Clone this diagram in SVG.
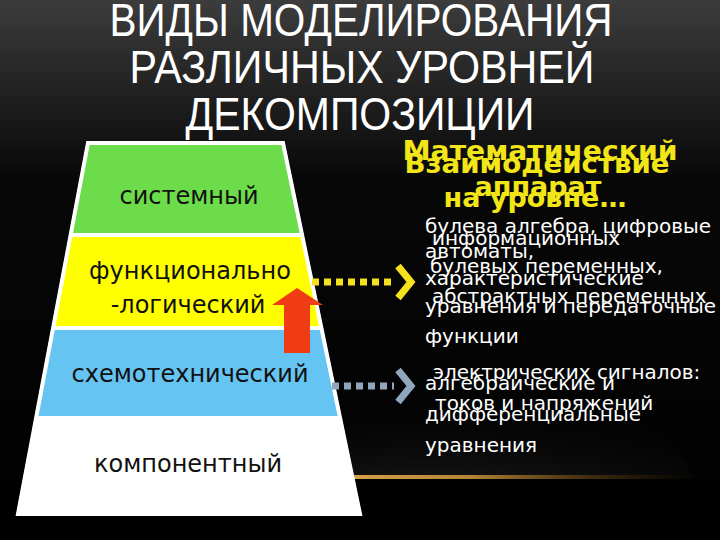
<svg xmlns="http://www.w3.org/2000/svg" width="720" height="540" viewBox="0 0 720 540">
<defs>
<linearGradient id="bg" x1="0" y1="0" x2="0" y2="1">
<stop offset="0" stop-color="#3c3c3c"/>
<stop offset="0.33" stop-color="#080808"/>
<stop offset="1" stop-color="#000"/>
</linearGradient>
<radialGradient id="glow" cx="0.5" cy="1" r="1">
<stop offset="0" stop-color="#4a4a4a" stop-opacity="0.9"/>
<stop offset="1" stop-color="#000" stop-opacity="0"/>
</radialGradient>
<linearGradient id="gold" x1="0" y1="0" x2="1" y2="0">
<stop offset="0" stop-color="#d9a24a" stop-opacity="1"/>
<stop offset="0.35" stop-color="#c8923c" stop-opacity="0.9"/>
<stop offset="1" stop-color="#5a3a10" stop-opacity="0"/>
</linearGradient>
<clipPath id="pyr"><polygon points="88,143 283,143 360,514 18,514"/></clipPath>
<clipPath id="aboveLine"><rect x="0" y="0" width="720" height="475"/></clipPath>
<style>
.title{font-family:"Liberation Sans",Arial,sans-serif;font-size:47px;fill:#fff;text-anchor:middle}
.lvl{font-family:"DejaVu Sans",Verdana,sans-serif;font-size:24px;fill:#111;text-anchor:middle}
.head{font-family:"DejaVu Sans",Verdana,sans-serif;font-weight:bold;font-size:27px;fill:#f2e619;text-anchor:middle}
.body{font-family:"DejaVu Sans",Verdana,sans-serif;font-size:20px;fill:#fff}
.dotY{fill:none;stroke:#f5e11c;stroke-width:7;stroke-dasharray:7 5}
.dotG{fill:none;stroke:#8fa6bc;stroke-width:7;stroke-dasharray:7 5}
.chevY{fill:none;stroke:#f5e11c;stroke-width:7;stroke-linejoin:miter}
.chevG{fill:none;stroke:#8fa6bc;stroke-width:7;stroke-linejoin:miter}
</style>
</defs>
<rect width="720" height="540" fill="url(#bg)"/>
<g id="background-glow">
<ellipse cx="430" cy="476" rx="260" ry="90" fill="url(#glow)" clip-path="url(#aboveLine)"/>
<rect x="345" y="475" width="360" height="4" fill="url(#gold)"/>
</g>
<g id="title">
<text class="title" x="361" y="36" textLength="503" lengthAdjust="spacingAndGlyphs">ВИДЫ МОДЕЛИРОВАНИЯ</text>
<text class="title" x="362" y="83" textLength="465" lengthAdjust="spacingAndGlyphs">РАЗЛИЧНЫХ УРОВНЕЙ</text>
<text class="title" x="360" y="130" textLength="349" lengthAdjust="spacingAndGlyphs">ДЕКОМПОЗИЦИИ</text>
</g>
<g id="pyramid">
<polygon points="88,143 283,143 360,514 18,514" fill="#fff" stroke="#fff" stroke-width="3"/>
<g clip-path="url(#pyr)">
<rect id="band-system" x="0" y="143" width="400" height="90" fill="#6cdc4a"/>
<rect id="band-func" x="0" y="237" width="400" height="89" fill="#ffff00"/>
<rect id="band-circuit" x="0" y="330" width="400" height="86" fill="#66c4f2"/>
</g>
<polygon points="88,143 283,143 360,514 18,514" fill="none" stroke="#fff" stroke-width="4"/>
</g>
<g id="node-system"><text class="lvl" x="189" y="204">системный</text></g>
<g id="node-func">
<text class="lvl" x="190" y="279">функционально</text>
<text class="lvl" x="188" y="313">-логический</text>
</g>
<g id="node-circuit"><text class="lvl" x="190" y="382">схемотехнический</text></g>
<g id="node-component"><text class="lvl" x="188" y="472">компонентный</text></g>
<g id="red-arrow">
<polygon points="297,288 323,305 310,305 310,353 284,353 284,305 272,305" fill="#f03c14"/>
</g>
<g id="connectors">
<line class="dotY" x1="312" y1="282" x2="394" y2="282"/>
<polyline class="chevY" points="398,266 411,282 398,298"/>
<line class="dotG" x1="332" y1="386" x2="394" y2="386"/>
<polyline class="chevG" points="398,370 411,386 398,402"/>
</g>
<g id="heading">
<text class="head" x="540" y="160" textLength="275" lengthAdjust="spacingAndGlyphs">Математический</text>
<text class="head" x="538" y="196">аппарат</text>
<text class="head" x="537" y="173" textLength="265" lengthAdjust="spacingAndGlyphs">Взаимодействие</text>
<text class="head" x="535" y="207">на уровне…</text>
</g>
<g id="text-math">
<text class="body" x="425" y="233">булева алгебра, цифровые</text>
<text class="body" x="425" y="258">автоматы,</text>
<text class="body" x="425" y="285">характеристические</text>
<text class="body" x="425" y="313">уравнения и передаточные</text>
<text class="body" x="425" y="343">функции</text>
<text class="body" x="425" y="390">алгебраические и</text>
<text class="body" x="425" y="421">дифференциальные</text>
<text class="body" x="425" y="452">уравнения</text>
</g>
<g id="text-interaction">
<text class="body" x="432" y="245">информационных</text>
<text class="body" x="430" y="273">булевых переменных,</text>
<text class="body" x="432" y="303">абстрактных переменных</text>
<text class="body" x="433" y="379">электрических сигналов:</text>
<text class="body" x="435" y="410">токов и напряжений</text>
</g>
</svg>
